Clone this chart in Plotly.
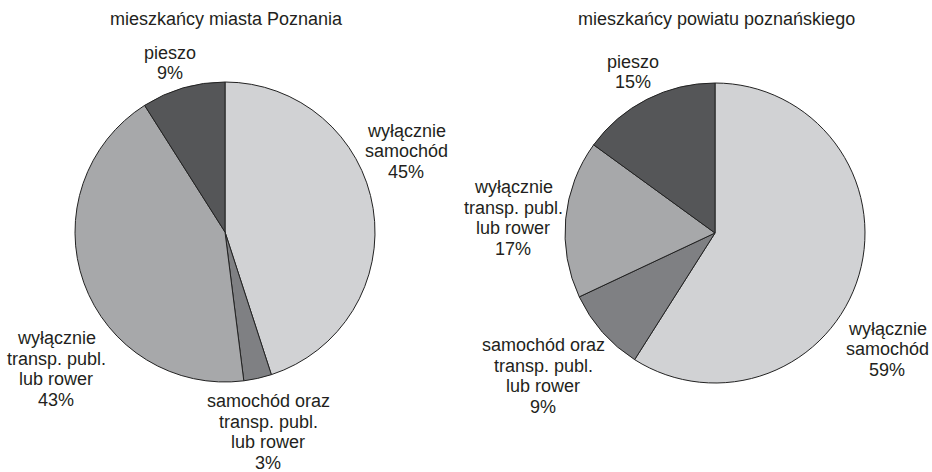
import plotly.graph_objects as go

categories = [
    "wyłącznie samochód",
    "samochód oraz transp. publ. lub rower",
    "wyłącznie transp. publ. lub rower",
    "pieszo",
]
label_lines = [
    ["wyłącznie", "samochód"],
    ["samochód oraz", "transp. publ.", "lub rower"],
    ["wyłącznie", "transp. publ.", "lub rower"],
    ["pieszo"],
]
poznan_values = [45, 3, 43, 9]
powiat_values = [59, 9, 17, 15]
titles = ["mieszkańcy miasta Poznania", "mieszkańcy powiatu poznańskiego"]
colors = ["#d1d2d4", "#7f8083", "#a7a8aa", "#555658"]

# layout (page pixels; body margin removed so the figure fills the page)
W, H = 932, 472
FONT = "Liberation Sans, Arial, Helvetica, sans-serif"
TXT = "#231f20"
LINE_H = 20.5
pie_centers = [(225, 232), (715, 233)]
R = 150
title_pos = [(226, 19), (716, 19)]
label_pos = [
    [(406, 151), (268, 432), (56, 369), (170, 63)],
    [(887, 349), (543, 376), (513, 218), (633, 72)],
]


def px(x, y):
    return x / W, 1 - y / H


def dom(cx, cy, r):
    x0, y1 = px(cx - r, cy - r)
    x1, y0 = px(cx + r, cy + r)
    return dict(x=[x0, x1], y=[y0, y1])


fig = go.Figure()
for vals, (cx, cy) in zip([poznan_values, powiat_values], pie_centers):
    fig.add_trace(go.Pie(
        labels=categories, values=vals, sort=False, direction="clockwise", rotation=0,
        marker=dict(colors=colors, line=dict(color="#222222", width=1)),
        textinfo="none", domain=dom(cx, cy, R), showlegend=False,
        hoverinfo="label+value",
    ))

for t, (tx, ty) in zip(titles, title_pos):
    x, y = px(tx, ty)
    fig.add_annotation(text=t, x=x, y=y, xref="paper", yref="paper", showarrow=False,
                       font=dict(family=FONT, size=18, color=TXT),
                       xanchor="center", yanchor="middle")

for vals, positions in zip([poznan_values, powiat_values], label_pos):
    for lines, v, (lx, ly) in zip(label_lines, vals, positions):
        all_lines = lines + [f"{v}%"]
        n = len(all_lines)
        for i, s in enumerate(all_lines):
            x, y = px(lx, ly + (i - (n - 1) / 2) * LINE_H)
            fig.add_annotation(text=s, x=x, y=y, xref="paper", yref="paper",
                               showarrow=False, font=dict(family=FONT, size=18, color=TXT),
                               xanchor="center", yanchor="middle")

fig.update_layout(width=W, height=H, margin=dict(l=0, r=0, t=0, b=0),
                  paper_bgcolor="white", plot_bgcolor="white")
fig.write_html("out.html", config={"displayModeBar": False},
               post_script="document.body.style.margin='0px';document.body.style.overflow='hidden';")
